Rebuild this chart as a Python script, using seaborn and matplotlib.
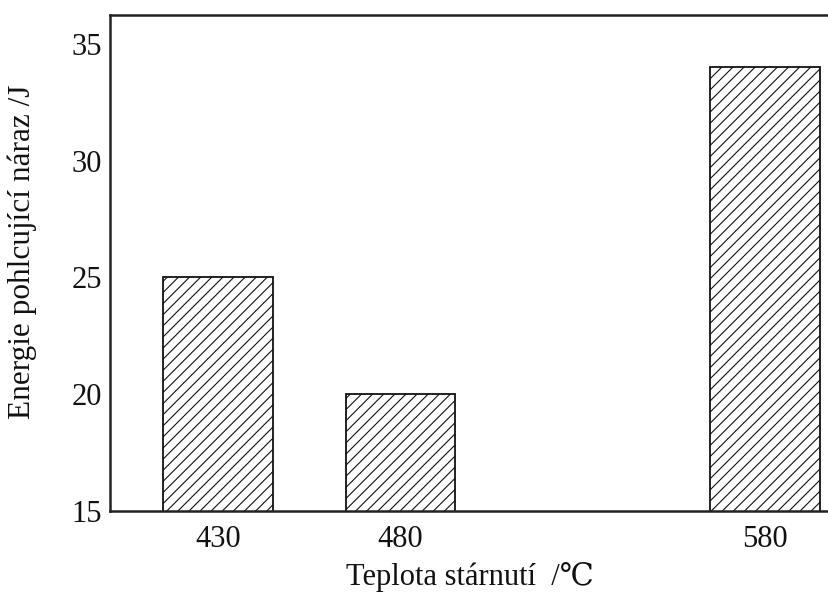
import matplotlib
matplotlib.use("Agg")
import matplotlib.pyplot as plt
import pandas as pd
import seaborn as sns

# aging temperature (C) and absorbed impact energy (J)
temperatures = [430, 480, 580]
energies = [25, 20, 34]
y_ticks = [15, 20, 25, 30, 35]

sns.set_theme(style="white")
plt.rcParams["font.family"] = ["Liberation Serif", "DejaVu Serif"]
plt.rcParams["hatch.linewidth"] = 0.8
plt.rcParams["hatch.color"] = "#333333"

df = pd.DataFrame({"temp": temperatures, "energy": energies})

fig = plt.figure(figsize=(8.29, 5.97), dpi=100)
ax = fig.add_axes([0.1327, 0.144, 0.8673, 0.831])

sns.barplot(
    data=df,
    x="temp",
    y="energy",
    native_scale=True,
    width=0.6,
    color="white",
    edgecolor="#111111",
    linewidth=1.3,
    hatch="///",
    ax=ax,
)

ax.set_xlim(400.4, 597.5)
ax.set_ylim(15, 36.24)
ax.set_xticks(temperatures)
ax.set_xticklabels([str(t) for t in temperatures])
ax.set_yticks(y_ticks)
ax.tick_params(axis="y", direction="in", length=7, width=1.5, labelsize=22, pad=6, colors="#111111")
ax.tick_params(axis="x", length=0, labelsize=22, pad=10, colors="#111111")

for side in ["left", "bottom", "top"]:
    ax.spines[side].set_color("#222222")
    ax.spines[side].set_linewidth(1.8)
ax.spines["right"].set_visible(False)

ax.set_xlabel("Teplota stárnutí  /℃", fontsize=22, labelpad=6, color="#111111")
ax.set_ylabel("Energie pohlcující náraz /J", fontsize=22.5, color="#111111")
ax.yaxis.set_label_coords(-0.102, 0.522)
ax.grid(False)

fig.savefig("out.png", dpi=100)
